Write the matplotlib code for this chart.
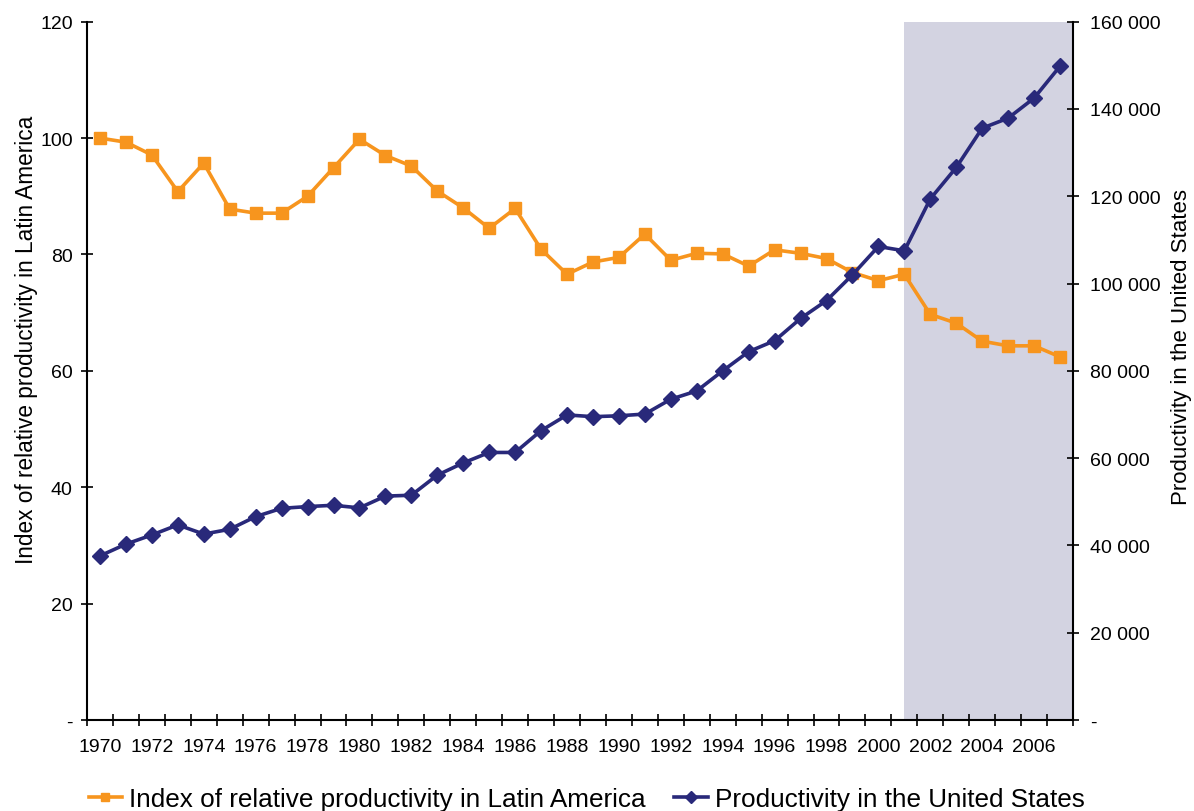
import numpy as np
import matplotlib.pyplot as plt
from matplotlib.ticker import FixedLocator, FuncFormatter

plt.rcParams['font.family'] = ['Liberation Sans', 'DejaVu Sans']

# ==========================================
# Data
# ==========================================
years = list(range(1970, 2008))

latam_index = [100.0, 99.3, 97.1, 90.8, 95.7, 87.8, 87.1, 87.1, 90.0, 94.9,
               99.8, 97.0, 95.2, 90.9, 88.0, 84.5, 87.9, 80.9, 76.6, 78.7,
               79.5, 83.5, 79.0, 80.2, 80.1, 78.0, 80.8, 80.2, 79.3, 76.9,
               75.5, 76.6, 69.7, 68.2, 65.1, 64.3, 64.3, 62.4]

us_productivity = [37600, 40300, 42400, 44700, 42600, 43700, 46600, 48500, 48900, 49200,
                   48600, 51300, 51500, 56100, 58900, 61300, 61300, 66300, 69900, 69500,
                   69700, 70100, 73500, 75400, 80000, 84400, 86900, 92000, 96100, 102000,
                   108500, 107500, 119400, 126600, 135600, 137900, 142500, 149800]

shade_start = 2001
label_years = list(range(1970, 2007, 2))

orange = '#F7951E'
navy = '#29297A'

# ==========================================
# Plot
# ==========================================
fig = plt.figure(figsize=(11.94, 8.12), dpi=100)
ax = fig.add_axes([87/1194, 1 - 721/812, 986/1194, 698.3/812])
ax2 = ax.twinx()

ax.axvspan(shade_start, years[-1] + 0.5, color='#D3D3E1', lw=0, zorder=0)

l1, = ax.plot(years, latam_index, color=orange, lw=2.6, marker='s', ms=8.5,
              label='Index of relative productivity in Latin America', zorder=3)
l2, = ax2.plot(years, us_productivity, color=navy, lw=2.6, marker='D', ms=8,
               label='Productivity in the United States', zorder=3)

ax.set_xlim(years[0] - 0.5, years[-1] + 0.5)
ax.set_ylim(0, 120)
ax2.set_ylim(0, 160000)

# category-style x axis: ticks on boundaries, labels at every second year
ax.xaxis.set_major_locator(FixedLocator(np.arange(years[0] - 0.5, years[-1] + 1, 1)))
ax.xaxis.set_major_formatter(FuncFormatter(lambda v, p: ''))
ax.xaxis.set_minor_locator(FixedLocator(label_years))
ax.xaxis.set_minor_formatter(FuncFormatter(lambda v, p: f'{int(round(v))}'))
ax.tick_params(axis='x', which='major', direction='inout', length=8, width=1.2)
ax.tick_params(axis='x', which='minor', length=0, pad=13, labelsize=14)

ax.set_yticks(np.arange(0, 121, 20))
ax.yaxis.set_major_formatter(FuncFormatter(lambda v, p: '-' if v == 0 else f'{int(v)}'))
ax.tick_params(axis='y', direction='inout', length=8.5, width=1.2, pad=6, labelsize=14)

ax2.set_yticks(np.arange(0, 160001, 20000))
ax2.yaxis.set_major_formatter(
    FuncFormatter(lambda v, p: '-' if v == 0 else f'{int(v):,}'.replace(',', ' ')))
ax2.tick_params(axis='y', direction='inout', length=8.5, width=1.2, pad=8, labelsize=14)

for a in (ax, ax2):
    a.spines['top'].set_visible(False)
    for s in ['left', 'right', 'bottom']:
        a.spines[s].set_linewidth(1.5)
ax.spines['right'].set_visible(False)
ax2.spines['left'].set_visible(False)
ax2.spines['bottom'].set_visible(False)
ax2.patch.set_visible(False)

ax.set_ylabel('Index of relative productivity in Latin America', fontsize=16.3)
ax.yaxis.set_label_coords(-0.0495, 0.546)
ax2.set_ylabel('Productivity in the United States', fontsize=16)
ax2.yaxis.set_label_coords(1.0995, 0.536)

fig.legend(handles=[l1, l2], loc='center left', bbox_to_anchor=(65/1194, 1 - 800/812),
           ncol=2, frameon=False, fontsize=18.8, handlelength=1.3,
           handletextpad=0.25, columnspacing=1.1, markerscale=0.75)

fig.savefig('out.png', dpi=100)
